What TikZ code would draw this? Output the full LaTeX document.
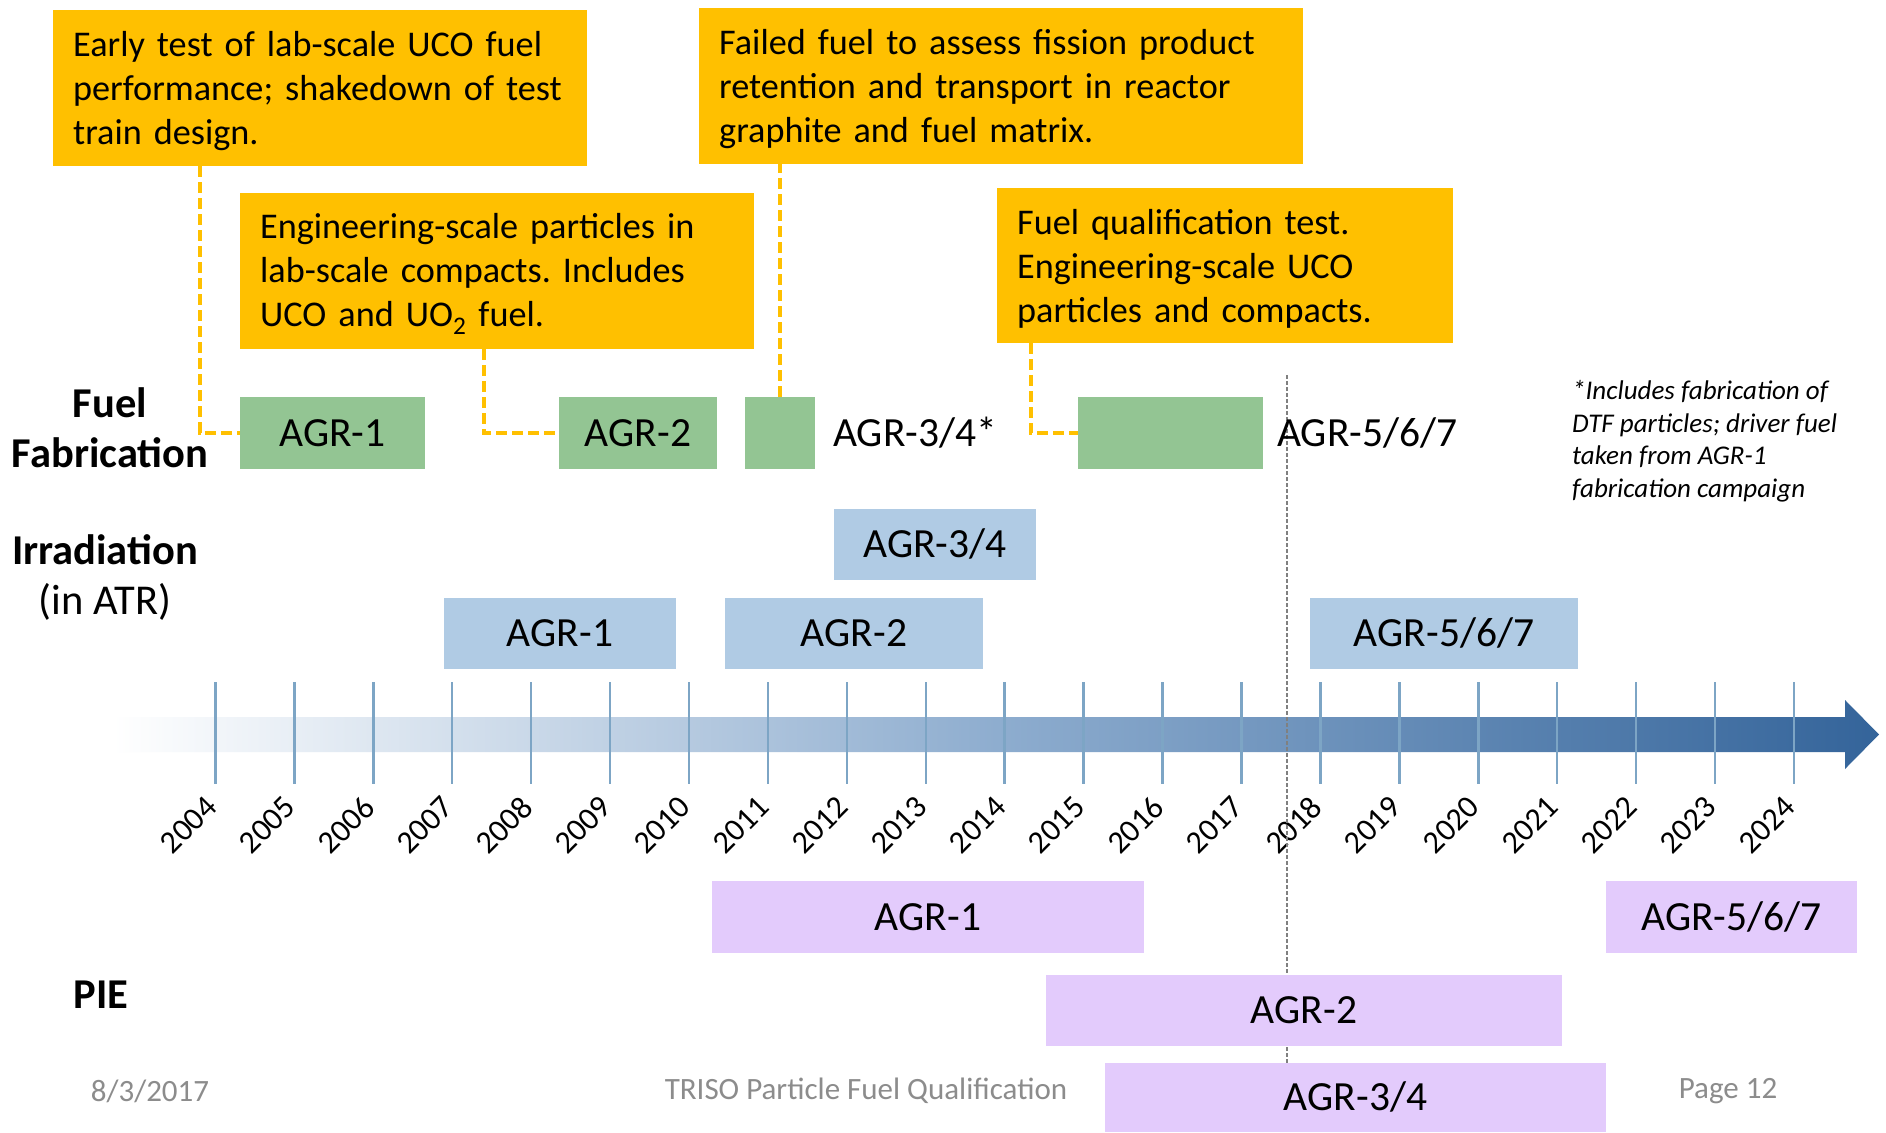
\documentclass[tikz,border=0pt]{standalone}
\usepackage{fontspec}
\setmainfont{Carlito}
\usetikzlibrary{calc}
\frenchspacing
\definecolor{yel}{HTML}{FFC000}
\definecolor{grn}{HTML}{93C593}
\definecolor{irr}{HTML}{B0CBE4}
\definecolor{piec}{HTML}{E3CBFC}
\definecolor{arrdark}{HTML}{34649A}
\definecolor{arrmid}{HTML}{8EADCF}
\definecolor{tickc}{HTML}{7DA5C5}
\definecolor{footgray}{HTML}{8C8C8C}
\newcommand{\toplift}{\rule{0pt}{31pt}}
\begin{document}
\begin{tikzpicture}[x=1pt,y=-1pt,
 ybox/.style={fill=yel, anchor=north west, inner xsep=20pt, inner ysep=0pt, align=left, font=\fontsize{36.2}{44}\selectfont},
 agr/.style={inner sep=0pt, text height=26.4pt, text depth=0pt, font=\fontsize{41.5}{50}\selectfont},
 gbox/.style={agr, fill=grn, minimum height=72pt},
 ibox/.style={agr, fill=irr, minimum height=71pt},
 pbox/.style={agr, fill=piec},
 sect/.style={inner sep=0pt, align=center, font=\bfseries\fontsize{42.5}{50}\selectfont},
 yconn/.style={draw=yel, line width=3.5pt, dash pattern=on 11pt off 5pt},
 nowline/.style={draw=gray, line width=1.3pt, dash pattern=on 4pt off 2pt},
 tickline/.style={draw=tickc, line width=2.5pt},
 yearlbl/.style={rotate=45, anchor=east, inner sep=0pt, font=\fontsize{32}{38}\selectfont},
 footer/.style={text=footgray, inner sep=0pt, font=\fontsize{31}{37}\selectfont},
]
\useasboundingbox (0,0) rectangle (1886,1132);
\fill[white] (0,0) rectangle (1886,1132);

% timeline arrow
\shade[left color=white, right color=arrdark, middle color=arrmid]
  (113,717) -- (1845,717) -- (1845,700) -- (1879,734.5) -- (1845,769) -- (1845,752) -- (113,752) -- cycle;

% ticks and years
\foreach \i in {0,...,20} {
  \pgfmathsetmacro\xx{215.4+78.93*\i}
  \pgfmathtruncatemacro\yr{2004+\i}
  \draw[tickline] (\xx,682) -- (\xx,784);
  \node[yearlbl] (yr\yr) at (\xx-4,802) {\yr};
}

% today line
\coordinate (nowtop) at (1287,375);
\coordinate (nowbot) at (1287,1063);
\draw[nowline] (nowtop) -- (nowbot);

% irradiation
\node[ibox, minimum width=202pt] (i34) at (935,544.5) {AGR-3/4};
\node[ibox, minimum width=232pt] (i1) at (560,633.5) {AGR-1};
\node[ibox, minimum width=258pt] (i2) at (854,633.5) {AGR-2};
\node[ibox, minimum width=268pt] (i5) at (1444,633.5) {AGR-5/6/7};

% PIE
\node[pbox, minimum width=432pt, minimum height=72pt] (p1) at (928,917) {AGR-1};
\node[pbox, minimum width=251pt, minimum height=72pt] (p5) at (1731.5,917) {AGR-5/6/7};
\node[pbox, minimum width=516pt, minimum height=71pt] (p2) at (1304,1010.5) {AGR-2};
\node[pbox, minimum width=501pt, minimum height=69pt] (p34) at (1355.5,1097.5) {AGR-3/4};

% yellow notes
\node[ybox, text width=494pt, minimum height=156pt] (n1) at (53,10)
  {\toplift\mbox{Early test of lab-scale UCO fuel}\\\mbox{performance; shakedown of test}\\\mbox{train design.}};
\node[ybox, text width=474pt, minimum height=156pt] (n2) at (240,193)
  {\toplift\mbox{Engineering-scale particles in}\\\mbox{lab-scale compacts. Includes}\\\mbox{UCO and UO\textsubscript{2} fuel.}};
\node[ybox, text width=564pt, minimum height=156pt] (n3) at (699,8)
  {\toplift\mbox{Failed fuel to assess fission product}\\\mbox{retention and transport in reactor}\\\mbox{graphite and fuel matrix.}};
\node[ybox, text width=416pt, minimum height=155pt] (n4) at (997,188)
  {\toplift\mbox{Fuel qualification test.}\\\mbox{Engineering-scale UCO}\\\mbox{particles and compacts.}};

% fabrication
\node[gbox, minimum width=185pt] (f1) at (332.5,433) {AGR-1};
\node[gbox, minimum width=158pt] (f2) at (638,433) {AGR-2};
\node[gbox, minimum width=70pt] (f3) at (780,433) {};
\node[gbox, minimum width=185pt] (f5) at (1170.5,433) {};
\node[agr, anchor=west] (f3t) at (833,433) {AGR-3/4*};
\node[agr, anchor=west] (f5t) at (1277,433) {AGR-5/6/7};

% connectors
\draw[yconn] ($(n1.south west)+(147,0)$) |- (f1.west);
\draw[yconn] ($(n2.south west)+(244,0)$) |- (f2.west);
\draw[yconn] (f3.north) -- (f3.north |- n3.south);
\draw[yconn] ($(n4.south west)+(34,0)$) |- (f5.west);

% section labels
\node[sect] (lfab) at (110,428) {Fuel\\Fabrication};
\node[sect] (lirr) at (105,577) {Irradiation\\{\mdseries (in ATR)}};
\node[sect] (lpie) at (101,995) {PIE};

% footnote
\node[inner sep=0pt, align=left, anchor=west, font=\itshape\fontsize{27}{32.5}\selectfont] (note) at (1572,441)
  {*Includes fabrication of\\DTF particles; driver fuel\\taken from AGR-1\\fabrication campaign};

% footer
\node[footer] (fdate) at (150,1091) {8/3/2017};
\node[footer] (ftitle) at (866,1091) {TRISO Particle Fuel Qualification};
\node[footer] (fpage) at (1728,1091) {Page 12};
\end{tikzpicture}
\end{document}
